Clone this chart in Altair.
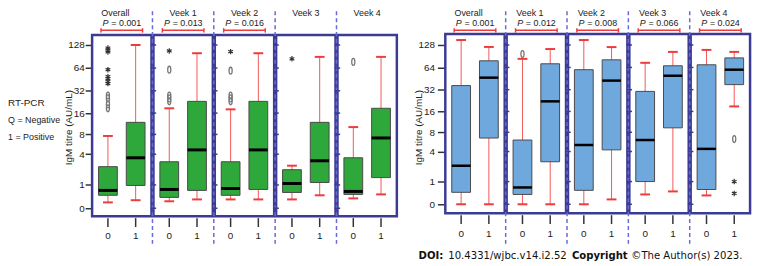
import altair as alt
import pandas as pd

# ---------------- data ----------------
panels = ["Overall", "Veek 1", "Veek 2", "Veek 3", "Veek 4"]
rt_pvalues = ["0.001", "0.013", "0.016", "", ""]
ab_pvalues = ["0.001", "0.012", "0.008", "0.066", "0.024"]
group_labels = ["0", "1"]
y_ticks = [0, 1, 4, 8, 16, 32, 64, 128]

# left chart (RT-PCR, green): IgM titre, AU/mL
rt_g0_low = [0.19, 0.23, 0.30, 0.30, 0.34]
rt_g0_q1 = [0.47, 0.38, 0.47, 0.60, 0.51]
rt_g0_med = [0.70, 0.75, 0.80, 1.09, 0.65]
rt_g0_q3 = [2.45, 2.99, 2.99, 2.15, 3.49]
rt_g0_high = [7.6, 18.6, 18.0, 2.55, 10.2]
rt_g1_low = [0.27, 0.30, 0.30, 0.47, 0.51]
rt_g1_q1 = [0.97, 0.70, 0.75, 1.15, 1.49]
rt_g1_med = [3.49, 4.68, 4.68, 3.11, 7.1]
rt_g1_q3 = [11.9, 23.1, 23.1, 11.9, 18.6]
rt_g1_high = [128, 100, 100, 89.6, 89.6]

rt_out_panel = [0, 0, 0, 0, 0, 0, 0, 0, 0, 0, 0, 0, 1, 1, 1, 1, 1, 2, 2, 2, 2, 2, 3, 4]
rt_out_group = [0] * 24
rt_out_value = [117, 110, 104, 60.8, 49.3, 46.4, 42.4, 39.9, 27.7, 25.3, 21.0, 18.6,
                107, 60.8, 27.7, 25.3, 23.1,
                105, 59, 27.7, 25.3, 23.1,
                84.5, 77]
rt_out_kind = ["star"] * 8 + ["circle"] * 4 + ["star"] + ["circle"] * 4 + ["star"] + ["circle"] * 4 + ["star", "circle"]

# right chart (blue)
ab_g0_low = [0, 0, 0, 0.35, 0.31]
ab_g0_q1 = [0.44, 0.35, 0.53, 1.0, 0.57]
ab_g0_med = [2.24, 0.67, 5.1, 6.1, 4.42]
ab_g0_q3 = [36.4, 6.1, 59.7, 30.3, 69.5]
ab_g0_high = [149, 83.5, 149, 73.9, 110]
ab_g1_low = [0, 0, 0.16, 0.48, 18.8]
ab_g1_q1 = [6.55, 2.66, 4.26, 9.3, 37.5]
ab_g1_med = [46.6, 22.1, 42.5, 49.5, 59.7]
ab_g1_q3 = [78.6, 71.7, 81, 67.4, 86]
ab_g1_high = [120.5, 113, 120, 103.5, 103.5]

ab_out_panel = [1, 4, 4, 4]
ab_out_group = [0, 1, 1, 1]
ab_out_value = [97, 6.3, 1.0, 0.39]
ab_out_kind = ["circle", "circle", "star", "star"]

# ---------------- tables ----------------
def box_table(side, g0, g1):
    rows = []
    for g, (low, q1, med, q3, high) in enumerate([g0, g1]):
        for p in range(len(panels)):
            rows.append(dict(side=side, p=p, g=g, label=group_labels[g], low=low[p], q1=q1[p],
                             med=med[p], q3=q3[p], high=high[p]))
    return pd.DataFrame(rows)


rt_box = box_table("rt", (rt_g0_low, rt_g0_q1, rt_g0_med, rt_g0_q3, rt_g0_high),
                   (rt_g1_low, rt_g1_q1, rt_g1_med, rt_g1_q3, rt_g1_high))
ab_box = box_table("ab", (ab_g0_low, ab_g0_q1, ab_g0_med, ab_g0_q3, ab_g0_high),
                   (ab_g1_low, ab_g1_q1, ab_g1_med, ab_g1_q3, ab_g1_high))
rt_out = pd.DataFrame(dict(side="rt", p=rt_out_panel, g=rt_out_group, value=rt_out_value, kind=rt_out_kind))
ab_out = pd.DataFrame(dict(side="ab", p=ab_out_panel, g=ab_out_group, value=ab_out_value, kind=ab_out_kind))
rt_pan = pd.DataFrame(dict(side="rt", p=list(range(5)), title=panels, pval=rt_pvalues))
ab_pan = pd.DataFrame(dict(side="ab", p=list(range(5)), title=panels, pval=ab_pvalues))
inner_ticks = pd.DataFrame([dict(p=p, value=v) for p in range(1, 5) for v in y_ticks])

# ---------------- layout / style ----------------
FONT = "Liberation Sans"
SHIFT = 5.758      # horizontal offset of right chart, in panel units
GSTEP = 0.452      # distance between group 0 and 1 boxes, in panel units
XS = alt.Scale(domain=[-101 / 62, 653 / 62], nice=False, zero=False)
XC = f"(datum.side == 'ab' ? {SHIFT} : 0) + datum.p + {GSTEP} * datum.g"
PC = f"(datum.side == 'ab' ? {SHIFT} : 0) + datum.p + {GSTEP / 2}"
FRAME = "#3b3b95"
DASH = "#6a6ad0"
RED = "#ee3b3b"
STAR = "M0,-1L0,1M-0.87,-0.5L0.87,0.5M-0.87,0.5L0.87,-0.5"
OVAL = "M0,-1C0.6,-1 0.6,1 0,1C-0.6,1 -0.6,-1 0,-1Z"


def xenc(f):
    return alt.X(f, type="quantitative", scale=XS, axis=None)


def side_chart(side, box_df, out_df, pan_df, fill, ydom, yrng, ax_off, title_x, tsize, lpad,
               ftop, fbot, xtick, xlab, med_w):
    Y = alt.Scale(type="symlog", domain=ydom, range=yrng, nice=False, zero=False)
    yaxis = alt.Axis(values=y_ticks, format="d", orient="left", offset=ax_off, domain=False,
                     grid=False, tickSize=tsize, tickWidth=1.5, tickColor="#333",
                     labelPadding=lpad, labelFont=FONT, labelFontSize=10, labelColor="#222",
                     labelOverlap=False, labelFlush=False,
                     title="IgM titre (AU/mL)", titleFont=FONT, titleFontSize=10,
                     titleFontWeight="normal", titleColor="#222", titleAngle=270,
                     titleX=title_x, titleY=119, titleAlign="center", titleBaseline="alphabetic")

    def yenc(f):
        return alt.Y(f, type="quantitative", scale=Y, axis=yaxis)

    pan = alt.Chart(pan_df).transform_calculate(pc=PC)
    frames = pan.transform_calculate(fl="datum.pc - 0.484", fr="datum.pc + 0.484").mark_rect(
        fillOpacity=0, stroke=FRAME, strokeWidth=2.5).encode(
        x=xenc("fl"), x2="fr", y=alt.value(ftop), y2=alt.value(fbot))
    seps = pan.transform_filter("datum.p < 4").transform_calculate(sx="datum.pc + 0.5").mark_rule(
        color=DASH, strokeDash=[4, 3], strokeWidth=1.5).encode(
        x=xenc("sx"), y=alt.value(2), y2=alt.value(237))
    titles = pan.transform_calculate(
        tx="datum.pc + ((datum.side == 'ab' || datum.p == 0) ? -0.105 : 0)").mark_text(
        font=FONT, fontSize=9, align="center", baseline="alphabetic",
        color="#222").encode(x=xenc("tx"), y=alt.value(7), text="title:N")
    pp = pan.transform_filter("datum.pval != ''")
    p_it = pp.mark_text(font=FONT, fontSize=9, fontStyle="italic", align="left",
                        baseline="alphabetic", color="#222", dx=-19.4, text="P").encode(
        x=xenc("pc"), y=alt.value(17))
    p_val = pp.transform_calculate(t="'= ' + datum.pval").mark_text(
        font=FONT, fontSize=9, align="left", baseline="alphabetic", color="#222", dx=-10.6).encode(
        x=xenc("pc"), y=alt.value(17), text="t:N")
    br = pp.transform_calculate(bl="datum.pc - 0.339", brr="datum.pc + 0.339")
    br_line = br.mark_rule(color=RED, strokeWidth=1.5).encode(
        x=xenc("bl"), x2="brr", y=alt.value(21))
    br_l = br.mark_rule(color=RED, strokeWidth=1.5).encode(
        x=xenc("bl"), y=alt.value(19), y2=alt.value(23.5))
    br_r = br.mark_rule(color=RED, strokeWidth=1.5).encode(
        x=xenc("brr"), y=alt.value(19), y2=alt.value(23.5))

    itk = alt.Chart(inner_ticks).transform_calculate(side=f"'{side}'").transform_calculate(
        pc=PC).transform_calculate(il="datum.pc - 0.53", ir="datum.pc - 0.44")
    inner = itk.mark_rule(color=FRAME, strokeWidth=1.5).encode(
        x=xenc("il"), x2="ir", y=yenc("value"))

    bx = alt.Chart(box_df).transform_calculate(xc=XC).transform_calculate(
        xl="datum.xc - 0.153", xr="datum.xc + 0.153", cl="datum.xc - 0.08", cr="datum.xc + 0.08")
    whisk = bx.mark_rule(color=RED, strokeWidth=1, opacity=0.85).encode(
        x=xenc("xc"), y=yenc("low"), y2="high")
    boxes = bx.mark_rect(fill=fill, stroke="#4a4a4a", strokeWidth=1).encode(
        x=xenc("xl"), x2="xr", y=yenc("q1"), y2="q3")
    meds = bx.mark_rule(color="black", strokeWidth=med_w).encode(
        x=xenc("xl"), x2="xr", y=yenc("med"))
    cap_hi = bx.mark_rule(color=RED, strokeWidth=2).encode(x=xenc("cl"), x2="cr", y=yenc("high"))
    cap_lo = bx.mark_rule(color=RED, strokeWidth=2).encode(x=xenc("cl"), x2="cr", y=yenc("low"))
    xt = bx.mark_rule(color="#333", strokeWidth=1.5).encode(
        x=xenc("xc"), y=alt.value(xtick), y2=alt.value(xtick + 9))
    xl = bx.mark_text(font=FONT, fontSize=10, align="center", baseline="alphabetic",
                      color="#222").encode(x=xenc("xc"), y=alt.value(xlab), text="label:N")

    od = alt.Chart(out_df).transform_calculate(xc=XC)
    stars = od.transform_filter("datum.kind == 'star'").mark_point(
        shape=STAR, size=30, filled=False, stroke="#333", strokeWidth=1.2, opacity=1).encode(
        x=xenc("xc"), y=yenc("value"))
    circles = od.transform_filter("datum.kind == 'circle'").mark_point(
        shape=OVAL, size=49, filled=False, stroke="#777", strokeWidth=1.3, opacity=1).encode(
        x=xenc("xc"), y=yenc("value"))

    return alt.layer(frames, seps, inner, whisk, boxes, meds, cap_hi, cap_lo, stars, circles,
                     xt, xl, titles, p_it, p_val, br_line, br_l, br_r)


left = side_chart("rt", rt_box, rt_out, rt_pan, "#2ea83a", [-0.2657, 172.3], [209, 26], -85, -21, 7, 1,
                  26, 209, 211, 232, 3)
right = side_chart("ab", ab_box, ab_out, ab_pan, "#6fa8dc", [-0.3122, 178.8], [206, 25], -442, -24, 8, 3,
                   25, 206, 208, 230, 2.5)

# legend text at left and source line at bottom
legend_lines = ["RT-PCR", "Q = Negative", "1 = Positive"]
legend = [alt.Chart().mark_text(text=t, font=FONT, fontSize=s, align="left", baseline="alphabetic",
                                color="#222").encode(x=alt.value(0), y=alt.value(yv))
          for t, s, yv in zip(legend_lines, [10, 9, 9], [98, 115, 132])]

source_parts = ["DOI:", "10.4331/wjbc.v14.i2.52", "Copyright", "\u00a9The Author(s) 2023."]
source_bold = [True, False, True, False]
source_x = [415, 445, 570, 630]
source = [alt.Chart().mark_text(text=t, font="DejaVu Sans", fontSize=10.2,
                                fontWeight="bold" if b else "normal", align="left",
                                baseline="alphabetic", color="#111").encode(
    x=alt.value(xv), y=alt.value(252)) for t, b, xv in zip(source_parts, source_bold, source_x)]

chart = alt.layer(left, right, *legend, *source).resolve_scale(y="independent").properties(
    width=754, height=258, autosize=alt.AutoSizeParams(type="none"), padding=0,
    background="white").configure_view(stroke=None)

chart.save("out.html", embed_options={"renderer": "svg", "actions": False})
